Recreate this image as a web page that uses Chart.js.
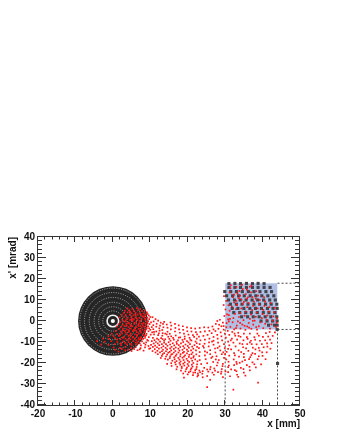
<!DOCTYPE html>
<html><head><meta charset="utf-8">
<style>html,body{margin:0;padding:0;background:#fff}canvas{display:block;filter:blur(0.35px)}</style>
<script src="https://cdn.jsdelivr.net/npm/chart.js@4"></script></head>
<body><canvas id="c" width="340" height="440"></canvas>
<script>
const xTickLabels=[-20,-10,0,10,20,30,40,50];
const yTickLabels=[-40,-30,-20,-10,0,10,20,30,40];
const discRadius=[9.3];
const holeRadius=[0.55];
const bullRing=[1.55];
const ringRadii=[2.7,3.8,5.0,6.3,7.6,8.8];
const acceptX=[30,44];
const acceptTop=[18,18];
const acceptBottom=-4;
const guides=[[[30,-4],[30,-40]],[[44,-4],[44,-40]],[[44,18],[50,18]],[[44,-4],[50,-4]]];
const gridPts=[31,17.8,32.6,17.9,34.1,17.8,35.7,17.9,37.3,17.8,38.8,17.9,40.4,17.8,
31,16,32.6,16,34.1,16,35.7,16,37.3,16,38.8,16,40.4,16,42,16,
29.9,14,31.5,14,33,14,34.6,14,36.2,14,37.7,14,39.3,14,40.9,14,42.4,14,
30.4,12,32,12,33.6,12,35.1,12,36.7,12,38.2,12,39.8,12,41.4,12,43,12,
30.9,10,32.5,10,34,10,35.6,10,37.2,10,38.7,10,40.3,10,41.9,10,43.4,10,
31.4,8,33,8,34.5,8,36.1,8,37.7,8,39.2,8,40.8,8,42.3,8,43.8,8,
31.9,6,33.4,6,35,6,36.6,6,38.1,6,39.7,6,41.3,6,42.8,6,43.9,6,
32.3,4,33.9,4,35.5,4,37,4,38.6,4,40.2,4,41.7,4,43.3,4,
34.4,2,36,2,37.5,2,39.1,2,40.7,2,42.2,2,43.8,2,
39.6,0,41.2,0,42.7,0,43.9,0,
41.6,-2,43.2,-2,43.9,-2,43.9,-4,44,-20.2];
const redClump=[3.9,6,5.2,5.8,6.4,6.1,7.3,5.7,3.2,4.9,4.4,5.1,5.6,4.8,6.7,5.1,7.8,4.7,8.6,5,
2.9,3.8,3.9,4.1,5,3.7,6.1,4,7.2,3.8,8.2,3.6,9.1,4.1,2.4,2.9,3.4,2.8,4.5,3,5.5,2.7,6.6,3.1,7.6,2.7,8.7,2.9,9.6,2.6,
1.8,1.7,3,1.9,4,1.6,5,2,6.1,1.8,7.1,1.5,8.2,1.9,9.2,1.6,10,1.9,2.5,0.6,3.6,0.8,4.6,0.5,5.6,0.9,6.6,0.4,7.7,0.8,8.7,0.5,9.7,0.9,
2,-0.5,3.1,-0.3,4.1,-0.7,5.1,-0.2,6.2,-0.6,7.2,-0.3,8.2,-0.8,9.2,-0.4,10.2,-0.7,1.5,-1.5,2.6,-1.7,3.6,-1.3,4.7,-1.8,5.7,-1.4,6.8,-1.8,7.8,-1.4,8.8,-1.9,9.8,-1.5,
1,-2.6,2.1,-2.8,3.1,-2.4,4.2,-2.9,5.2,-2.5,6.3,-2.9,7.3,-2.4,8.4,-2.8,9.4,-2.6,10.4,-2.9,1.6,-3.8,2.7,-3.6,3.7,-4,4.8,-3.6,5.8,-4.1,6.9,-3.7,7.9,-4.1,9,-3.7,10,-4.2,
0.8,-4.8,2.1,-5,3.2,-4.7,4.3,-5.2,5.3,-4.8,6.4,-5.3,7.4,-4.9,8.5,-5.3,9.5,-4.9,10.5,-5.4,-0.3,-6,1.1,-6.2,2.5,-5.9,3.7,-6.3,4.8,-6,5.9,-6.4,6.9,-6,8,-6.5,9,-6.1,10.1,-6.5,
-1.2,-7.2,0.2,-7.3,1.6,-7.1,3,-7.5,4.2,-7.1,5.4,-7.6,6.4,-7.2,7.5,-7.7,8.6,-7.3,9.6,-7.7,-2.6,-8.4,-1,-8.5,0.6,-8.2,2,-8.7,3.4,-8.4,4.7,-8.8,5.9,-8.4,7,-8.9,8.1,-8.5,9.2,-9,
-4.2,-9.6,-2.2,-9.9,-0.4,-9.6,1.2,-10,2.8,-9.7,4.2,-10.1,5.5,-9.6,6.6,-10.1,7.8,-9.7,8.9,-10.2,-3.1,-11.2,-1.2,-11.4,0.5,-11,2.2,-11.5,3.7,-11.1,5,-11.6,6.3,-11.1,7.5,-11.6,8.7,-11.3,
0.2,-12.6,1.9,-12.8,3.4,-12.4,4.8,-12.9,6.1,-12.5,7.4,-12.9,8.6,-12.6,1.5,-14.6,3.3,-14,5,-14.3,6.6,-13.9,8.2,-14.1,6.2,-4.6,4.4,-8.2,7.7,-3.2,5.3,0.2,8,2.2,2.2,-10.7,6.9,-8.1,8.9,-6.8,
4.6,4.3,6,3,7.4,3.1,8.4,2.1,9.3,3.3,5.1,1,6.4,1.2,7.3,0.1,8.6,1.1,9.4,-0.1,3.4,0,4.4,-1.1,5.8,-0.9,7,-1.1,8.3,-1.2,9.3,-1.1,3.7,-2.2,4.9,-2.3,5.9,-3.3,6.8,-2.3,8,-2.2,9,-3.2,
2.6,-4.4,4.2,-4.3,5.5,-4.4,7.3,-4.4,8.6,-4.5,9.7,-3.5,2,-6.6,3.4,-5.5,4.6,-6.7,6.4,-6.7,7.5,-5.6,8.5,-6.9,1.1,-8.8,2.7,-8,4,-9.1,5.3,-7.9,6.3,-9.2,7.5,-8.4,8.6,-8.1,3.3,-10.4,4.8,-10.9,6.1,-10.3,7.2,-10.7,8.3,-10.6,9.4,-9.4,9.5,-11.9,9.7,-13.2,0.6,-13.7,2.4,-13.4,4.1,-13.6,5.7,-13.4,7.2,-13.5];
const redBand=[10.8,-3.9,11.6,-5,12.5,-4.6,13.3,-5.8,11,-6.4,12.1,-6.7,13.2,-7,14.4,-6.4,15.6,-7.3,16.8,-6.9,18,-7.8,19.2,-7.4,20.5,-8,21.7,-7.6,
10.7,-8,11.8,-8.4,12.9,-8.2,14,-8.7,15.1,-8.5,16.3,-8.9,17.4,-9.2,18.6,-9,19.8,-9.6,21,-9.3,22.1,-9.8,10.4,-9.6,11.5,-10,12.6,-9.8,13.7,-10.3,14.9,-10.1,16,-10.6,17.1,-10.9,18.2,-10.7,19.4,-11.2,20.6,-11,21.8,-11.5,
10.2,-11.4,11.3,-11.7,12.4,-11.5,13.5,-12,14.6,-11.8,15.7,-12.3,16.8,-12.6,18,-12.4,19.1,-12.9,20.3,-12.7,21.5,-13.2,10,-13,11.2,-13.4,12.3,-13.2,13.4,-13.7,14.5,-13.5,15.6,-14,16.7,-14.3,17.8,-14.1,19,-14.7,20.1,-14.4,21.3,-15,
11.4,-15,12.6,-14.9,13.7,-15.3,14.8,-15.1,15.9,-15.7,17,-15.9,18.1,-15.8,19.3,-16.4,20.4,-16.1,21.6,-16.7,13.1,-16.6,14.2,-16.9,15.3,-16.8,16.4,-17.3,17.5,-17.6,18.6,-17.5,19.7,-18,20.9,-17.8,22,-18.3,
14.7,-18.4,15.9,-18.9,17,-19.1,18.1,-19.3,19.2,-19.7,20.4,-19.5,21.5,-20,16.8,-20.7,18,-20.8,19.1,-21.2,20.2,-21.4,21.3,-21.7,22.4,-21.9,18.4,-22.4,19.6,-22.9,20.8,-23.1,22,-23.4,23.1,-23.6,20.3,-24.4,21.5,-24.6,22.7,-25,23.9,-25.1,19,-27,22.6,-26.4,24,-26.8,25.2,-26.2,25.2,-31.5,26,-28,
10.6,1.8,11.4,0.9,10.9,-0.2,12.1,0.2,11.7,-1.3,12.8,-0.8,10.8,-2,11.6,-2.7,12.6,-2.2,13.4,-1.4,13.7,-0.4,14.4,-1.7,13.5,-3,14.6,-3.2,15.4,-0.7,15.6,-2.2,16.6,-1.4,15.5,-4,16.7,-3.3,17.6,-2.1,18.7,-2.5,17.7,-4,18.8,-4.2,19.8,-3,20.9,-3.4,19.9,-4.9,21,-5,22,-3.6,23.2,-3.3,22.2,-5.3,23.4,-5.2,24.4,-3,25.5,-3.1,24.6,-4.9,25.8,-4.7,26.6,-2.6,27.5,-1.4,27.9,0,28.4,-1.8,26.9,-4,16.6,-5,17.9,-5.6,19,-6,20.2,-6.5,21.4,-6.7,22.5,-6.4,14.6,-5.1,13.2,-4.3,12.4,-3.5,
11,-5.2,12.3,-5.9,14,-6,15.2,-6.1,13.3,-8.6,14.8,-7.5,16.1,-8,17.6,-7.9,19.2,-8.5,20.7,-8.9,22.4,-8.4,11.1,-9.1,12.2,-8.9,13.7,-9.4,15.4,-9.4,17,-10,18.8,-10,20.2,-10.2,22.4,-10.6,
10.9,-10.7,12,-10.7,13.1,-11,14.2,-11,15.3,-11.2,16.4,-11.6,17.6,-11.5,18.8,-12,20,-11.9,21.2,-12.2,22.5,-12.3,10.7,-12.3,11.8,-12.5,13,-12.7,14.1,-12.8,15.3,-13,16.3,-13.3,17.5,-13.2,18.6,-13.7,19.8,-13.6,20.9,-14,22.2,-14,
10.6,-14.3,11.9,-14.2,13.1,-14.4,14.2,-14.4,15.2,-14.7,16.3,-15,17.5,-15,18.7,-15.2,19.8,-15.4,21,-15.8,22.3,-15.9,12,-15.8,13.3,-15.8,14.5,-16,15.6,-16,16.8,-16.6,18,-16.8,19,-17,20.3,-17.1,21.5,-17.4,12.8,-17.6,14,-18,15.2,-17.7,16.5,-18.2,17.8,-18.4,18.9,-18.6,20,-18.9,21.2,-18.9,22.6,-19.2,
14.5,-20.4,15.6,-20.1,16.6,-19.7,17.8,-20,18.8,-20.3,20,-20.5,21.1,-20.8,22.5,-20.7,15.7,-21.4,17.2,-21.8,18.4,-21.7,19.8,-22.2,21,-22.5,22.3,-22.9,17,-23,18.2,-23.6,19.4,-24,20.7,-24,22,-24.5,23.3,-24.4,18.8,-25,20,-25.4,21.4,-25.8,22.8,-25.8];
const redArc=[23,-7.4,24.2,-7.1,25.3,-6.6,26.4,-5.8,27.4,-4.8,28.2,-3.7,29,-2.5,29.4,-0.8,23.4,-9.2,24.6,-8.9,25.8,-8.4,26.9,-7.6,27.9,-6.6,28.8,-5.4,29.6,-4.1,
23.2,-11,24.5,-10.8,25.7,-10.2,26.9,-9.4,28,-8.4,29,-7.3,29.9,-6,30.7,-4.7,23,-12.9,24.3,-12.7,25.6,-12.1,26.9,-11.3,28.1,-10.3,29.2,-9.2,30.2,-7.9,31.1,-6.6,31.9,-5.2,
23.2,-14.8,24.6,-14.5,26,-13.9,27.3,-13.1,28.5,-12.1,29.7,-11,30.8,-9.8,31.8,-8.4,32.7,-7,33.5,-5.6,23.1,-16.7,24.6,-16.4,26,-15.8,27.4,-15,28.7,-14,29.9,-12.9,31.1,-11.6,32.2,-10.3,33.2,-8.9,34.1,-7.5,35,-6,
23.2,-18.6,24.8,-18.2,26.3,-17.6,27.7,-16.8,29.1,-15.8,30.4,-14.7,31.6,-13.5,32.8,-12.1,33.9,-10.7,34.9,-9.2,35.8,-7.7,36.6,-6,23.6,-20.5,25.2,-20.1,26.8,-19.5,28.3,-18.6,29.7,-17.6,31.1,-16.5,32.4,-15.3,33.6,-14,34.8,-12.5,35.9,-11,36.9,-9.4,37.8,-7.7,38.6,-6,
24.4,-22.3,26.1,-21.9,27.8,-21.2,29.4,-20.4,30.9,-19.4,32.3,-18.3,33.7,-17,35,-15.7,36.2,-14.2,37.4,-12.7,38.4,-11.1,39.3,-9.4,40.1,-7.6,40.9,-5.8,25.5,-24.1,27.3,-23.6,29.1,-22.9,30.8,-22,32.4,-21,33.9,-19.9,35.3,-18.6,36.7,-17.2,38,-15.7,39.2,-14.1,40.3,-12.5,41.2,-10.7,42,-8.9,42.7,-7.1,43.3,-5.4,
27,-25.6,28.9,-25.1,30.8,-24.3,32.6,-23.4,34.2,-22.3,35.8,-21,37.3,-19.7,38.7,-18.2,40,-16.6,41.1,-14.9,42.1,-13.2,29.4,-26.7,31.3,-26.3,33.2,-25.6,35,-24.6,36.6,-23.5,38.2,-22.1,39.6,-20.7,32.2,-32.7,38.8,-29.3,33.5,-26.6,35.4,-26,29,-24.1,31,-21.2,33,-19.5,35,-17.2,37,-16.2,39,-12.8,26,-23,28,-19.8,30,-15.8,28,-12.8,26.5,-9.8,
24.1,-12,25.2,-15,26.6,-17,27.5,-18.3,29.5,-14.9,30.8,-13.3,31.5,-9.2,32.5,-6,33.6,-7.1,34.6,-11,36,-8.5,37.1,-11,37.3,-15.3,38.1,-13.5,36.4,-18.2,34.6,-19.3,33.1,-20.4,31.6,-23,30.1,-24,28.1,-24.3,26.6,-24.6,25.2,-23.1,24,-23.9,27.1,-22.6,29.3,-21.5,30.3,-18.3,32.6,-16.4,34.3,-14.8,35.6,-13,36.6,-10.2,38,-8.9,39,-7,39.8,-11,40.7,-9.2,41.5,-7.4,41.9,-5.2,39.9,-14.9,41.3,-12.2,42.4,-10.5,39,-16.8,40.8,-18.2,37.8,-20.6,36.5,-21.8,34.9,-22.9,33,-23.9];
const redBox=[28.6,0.6,29.8,2.4,30.4,-1,30.8,0.8,31,2.8,31.2,4.9,31.8,6.9,31.4,-2.8,32,-0.6,32.2,1.4,32.6,3.4,32.9,5.6,33.2,7.7,33,9.6,32.4,-4,33.1,-2.2,33.4,-0.2,33.7,1.9,34,3.9,34.3,6,34.7,8.1,34.4,10.2,34,12.1,
34.1,-3.6,34.6,-1.7,34.9,0.4,35.2,2.5,35.5,4.5,35.9,6.6,36.2,8.6,35.9,10.7,35.5,12.8,35.4,-4.2,35.9,-2.6,36.3,-0.9,36.6,1,36.9,3.1,37.2,5.2,37.5,7.2,37.7,9.2,37.3,11.4,36.9,13.6,
37,-3.7,37.5,-1.7,37.9,0.2,38.2,2,38.4,4,38.7,6,39,8,39.3,10,38.8,12.1,38.3,14.2,38.5,-4.1,39,-2.5,39.4,-0.6,39.8,1.4,40,3.3,40.2,5.3,40.5,7.2,40.7,9.2,40.4,11.3,
40.2,-3.4,40.7,-1.3,41.1,0.6,41.3,2.6,41.6,4.5,41.8,6.6,42.1,8.6,42,-3.6,42.4,-1.6,42.7,0.2,42.9,2.2,43.1,4.2,43.3,6.3,43.6,-2.8,43.8,-0.8,43.9,1.2,
32.1,11.3,33.3,13.2,31.4,15.6,34.7,15.2,36.6,16.3,29.6,-2.4,30.1,5.5,29.6,7.6,
30.5,3.2,31.3,1,32.4,8.8,33.6,10.9,35,9.1,36.1,11.3,30.3,-3,31,-0.2,32.9,-3.4,34,-0.9,35.2,-2.3,36.4,-3.2,37.4,0.1,38.3,-2.9,30.9,7.5,32.4,12.6,33.8,14.3,35.8,14.9,31.5,17,33,16.2,34.5,17.2,37,16.9,30.3,9.6,29.7,11.8,31.2,13.6,38.2,10.6];
function toPts(a){const r=[];for(let i=0;i<a.length;i+=2)r.push({x:a[i],y:a[i+1]});return r;}
function mmToPx(c,mm){const s=c.chart.scales.x;return s&&s.getPixelForValue?Math.abs(s.getPixelForValue(mm)-s.getPixelForValue(0)):mm*3.73;}
const redAll=redClump.concat(redBand,redArc,redBox);
const dash=guides.map((g,i)=>({type:'scatter',showLine:true,data:g.map(p=>({x:p[0],y:p[1]})),borderColor:'#333',borderWidth:0.9,borderDash:[2,2],pointRadius:0,order:5}));
const ticksPlugin={id:'frameTicks',
 beforeDatasetDraw(chart,args){const d=chart.data.datasets[args.index];if(d.dotted)chart.ctx.setLineDash([1,1.4]);},
 afterDatasetDraw(chart,args){const d=chart.data.datasets[args.index];if(d.dotted)chart.ctx.setLineDash([]);},
 afterDatasetsDraw(chart){const {ctx,chartArea:a,scales:{x,y}}=chart;ctx.save();ctx.strokeStyle='#333';ctx.lineWidth=1;
  ctx.strokeRect(a.left-0.5,a.top-0.5,a.right-a.left,a.bottom-a.top+1);
  ctx.beginPath();
  x.ticks.forEach(t=>{const p=Math.round(x.getPixelForValue(t.value))-0.5;const l=t.value%10===0?5:2.5;ctx.moveTo(p,a.bottom);ctx.lineTo(p,a.bottom-l);ctx.moveTo(p,a.top);ctx.lineTo(p,a.top+l);});
  y.ticks.forEach(t=>{const p=Math.round(y.getPixelForValue(t.value))-0.5;const l=t.value%10===0?8:4;ctx.moveTo(a.left,p);ctx.lineTo(a.left+l,p);ctx.moveTo(a.right-1,p);ctx.lineTo(a.right-1-l,p);});
  ctx.stroke();ctx.restore();}};
const font={family:'"Liberation Sans"',size:10,weight:'bold'};
new Chart(document.getElementById('c'),{type:'scatter',plugins:[ticksPlugin],
 data:{datasets:[
  {data:toPts(redAll),pointStyle:'rect',pointRadius:1.2,backgroundColor:'#ff1414',borderWidth:0,order:0},
  {data:toPts(gridPts),pointStyle:'rect',pointRadius:2.2,backgroundColor:'#44444c',borderWidth:0,order:1},
  {data:holeRadius.map(()=>({x:0,y:0})),pointRadius:c=>mmToPx(c,holeRadius[c.dataIndex]),backgroundColor:'#fff',borderWidth:0,order:2},
  {data:bullRing.map(()=>({x:0,y:0})),pointRadius:c=>mmToPx(c,bullRing[c.dataIndex]),backgroundColor:'rgba(0,0,0,0)',borderColor:'#f4f4f4',borderWidth:1.6,order:3},
  {dotted:true,data:ringRadii.map(()=>({x:0,y:0})),pointRadius:c=>mmToPx(c,ringRadii[c.dataIndex]),backgroundColor:'rgba(0,0,0,0)',borderColor:'#c8c8c8',borderWidth:0.8,order:3},
  {data:discRadius.map(()=>({x:0,y:0})),pointRadius:c=>mmToPx(c,discRadius[c.dataIndex]),backgroundColor:'#262626',borderWidth:0,order:4},
  ...dash,
  {type:'line',parsing:false,data:[{x:acceptX[0],y:acceptTop[0]},{x:acceptX[1],y:acceptTop[1]}],fill:{target:{value:acceptBottom}},backgroundColor:'#b0bfe4',borderWidth:0,pointRadius:0,order:6}
 ]},
 options:{responsive:false,animation:false,events:[],
  layout:{padding:{top:237,right:40,bottom:10,left:7}},
  plugins:{legend:{display:false},tooltip:{enabled:false}},
  scales:{
   x:{type:'linear',min:-20,max:50,afterFit:s=>{s.height=25},grid:{display:false,drawTicks:false},border:{display:false},
    ticks:{stepSize:2,autoSkip:false,maxRotation:0,padding:3,font,color:'#111',callback:v=>xTickLabels.includes(v)?String(v):''},
    title:{display:true,text:'x [mm]',align:'end',font,color:'#111',padding:0}},
   y:{type:'linear',min:-40,max:40,afterFit:s=>{s.width=31},grid:{display:false,drawTicks:false},border:{display:false},
    ticks:{stepSize:2,autoSkip:false,padding:3,font,color:'#111',callback:v=>yTickLabels.includes(v)?String(v):''},
    title:{display:true,text:"x' [mrad]",align:'end',font,color:'#111',padding:0}}
  }}});
</script></body></html>
